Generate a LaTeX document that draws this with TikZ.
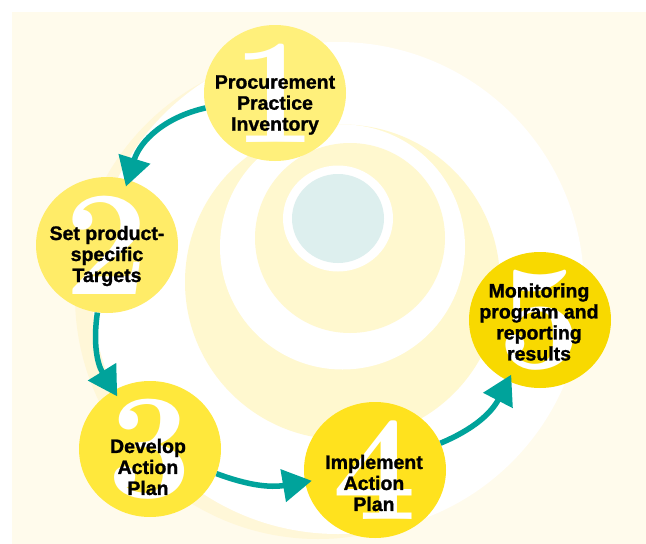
\documentclass[tikz,border=0pt]{standalone}
\usepackage{fontspec}
\newfontfamily\labelfont{Liberation Sans Bold}[FakeBold=1.2]
\usetikzlibrary{arrows.meta,shapes.geometric,positioning}
\definecolor{cream}{HTML}{FFFBEC}
\definecolor{faintyellow}{HTML}{FFF7D8}
\definecolor{ringyellow}{HTML}{FFF8CF}
\definecolor{paleblue}{HTML}{DDEFEE}
\definecolor{arrowteal}{HTML}{00A39B}
\definecolor{yellowA}{HTML}{FFF07B}
\definecolor{yellowB}{HTML}{FFEC68}
\definecolor{yellowC}{HTML}{FFE83C}
\definecolor{yellowD}{HTML}{FFE21E}
\definecolor{yellowE}{HTML}{F8D900}
\tikzstyle{stepcircle} = [ellipse, minimum width=142pt, minimum height=136pt, inner sep=0pt]
\tikzstyle{bignum} = [text=white, inner sep=0pt, font=\fontsize{150pt}{150pt}\selectfont\bfseries]
\tikzstyle{steptext} = [align=center, inner sep=0pt, font=\labelfont\fontsize{19.5pt}{21pt}\selectfont]
\tikzstyle{line} = [draw=arrowteal, line width=5.5pt, shorten >=-7pt, -{Triangle[length=29pt,width=32pt]}]

\begin{document}
\begin{tikzpicture}[x=1pt, y=-1pt]
    \useasboundingbox (0,0) rectangle (646,544);
    % Background and rings
    \fill[white] (0,0) rectangle (646,544);
    \fill[cream] (12,12) rectangle (646,544);
    \begin{scope}
    \clip (12,12) rectangle (646,544);
    \fill[faintyellow] (318,296) circle [radius=243];
    \fill[white] (338,288) circle [radius=246];
    \fill[ringyellow] (342.5,282) circle [radius=157.5];
    \fill[white] (342.5,247) circle [radius=122.5];
    \fill[ringyellow] (350,238) circle [radius=95];
    \fill[white] (338,218.5) circle [x radius=55, y radius=53];
    \fill[paleblue] (338,218.5) circle [x radius=46, y radius=44.5];
    \end{scope}

    % Place nodes
    \node [stepcircle, fill=yellowA] (procure) at (275,93) {};
    \node [stepcircle, fill=yellowB] (targets) at (107,245) {};
    \node [stepcircle, fill=yellowC] (develop) at (150,449) {};
    \node [stepcircle, fill=yellowD] (implement) at (375,470) {};
    \node [stepcircle, fill=yellowE] (monitor) at (540,320) {};

    \node [bignum] (num1) at (procure) {1};
    \node [bignum] (num2) at (targets) {2};
    \node [bignum] (num3) at (develop) {3};
    \node [bignum] (num4) at (implement) {4};
    \node [bignum] (num5) at (monitor) {5};

    \node [steptext] (procuretext) at ([yshift=-12pt]procure.center) {Procurement\\Practice\\Inventory};
    \node [steptext] (targetstext) at ([yshift=-11pt]targets.center) {Set product-\\specific\\Targets};
    \node [steptext] (developtext) at ([xshift=-2pt,yshift=-18pt]develop.center) {Develop\\Action\\Plan};
    \node [steptext] (implementtext) at ([xshift=-1pt,yshift=-13pt]implement.center) {Implement\\Action\\Plan};
    \node [steptext] (monitortext) at ([xshift=-1pt,yshift=-2pt]monitor.center) {Monitoring\\program and\\reporting\\results};

    % Draw edges
    \path [line] (procure) to[bend right=30] (targets);
    \path [line] (targets) to[bend right=20] (develop);
    \path [line] (develop) to[bend right=15] (implement);
    \path [line] (implement) to[bend right=20] (monitor);
\end{tikzpicture}
\end{document}
